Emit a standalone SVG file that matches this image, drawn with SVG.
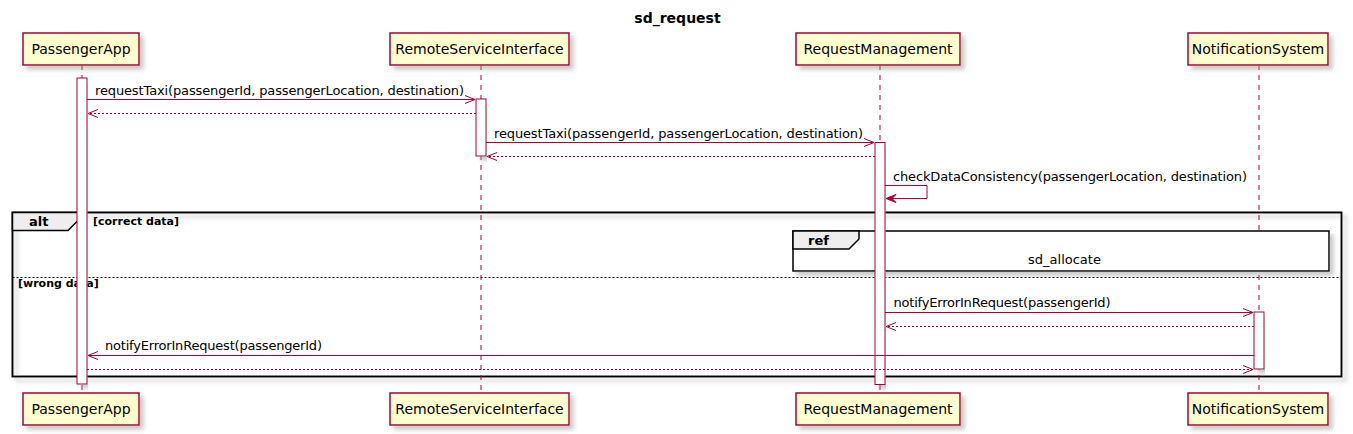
<svg xmlns="http://www.w3.org/2000/svg" width="1353" height="434" viewBox="0 0 1353 434">
<style>
text{font-family:"DejaVu Sans","Liberation Sans",sans-serif;fill:#000}
.title{font-size:14px;font-weight:bold}
.pbox{fill:#FEFECE;stroke:#A80036;stroke-width:1.5}
.pname{font-size:14px}
.life{stroke:#A80036;stroke-width:1;stroke-dasharray:5,5}
.act{fill:#FFFFFF;stroke:#A80036;stroke-width:1}
.msg{stroke:#A80036;stroke-width:1;fill:none}
.ret{stroke:#A80036;stroke-width:1;fill:none;stroke-dasharray:2,2}
.lbl{font-size:13px}
.frame{fill:none;stroke:#000;stroke-width:2}
.tab{fill:#EEEEEE;stroke:#000;stroke-width:1.5}
.ftitle{font-size:13px;font-weight:bold}
.guard{font-size:11px;font-weight:bold}
.sep{stroke:#000;stroke-width:1;stroke-dasharray:2,2}
</style>
<defs>
<filter id="sh" x="-5%" y="-5%" width="115%" height="130%">
<feGaussianBlur in="SourceAlpha" stdDeviation="2" result="b"/>
<feOffset in="b" dx="4" dy="4" result="o"/>
<feColorMatrix in="o" type="matrix" values="0 0 0 0 0.3  0 0 0 0 0.3  0 0 0 0 0.3  0 0 0 0.5 0" result="c"/>
<feMerge><feMergeNode in="c"/><feMergeNode in="SourceGraphic"/></feMerge>
</filter>
</defs>
<rect width="1353" height="434" fill="#FFFFFF"/>
<text class="title" x="677.5" y="22.5" text-anchor="middle">sd_request</text>

<g id="alt-frame">
<rect class="frame" x="12.5" y="212.5" width="1329" height="164" filter="url(#sh)"/>
<polygon class="tab" points="12.5,212.5 78,212.5 78,220.5 68,230.5 12.5,230.5"/>
<text class="ftitle" x="29" y="226">alt</text>
<text class="guard" x="93" y="225">[correct data]</text>
<line class="sep" x1="12.5" y1="277.5" x2="1341.5" y2="277.5"/>
<text class="guard" x="18" y="287">[wrong data]</text>
</g>

<g id="lifelines">
<line class="life" x1="82" y1="65" x2="82" y2="393"/>
<line class="life" x1="481" y1="65" x2="481" y2="393"/>
<line class="life" x1="880" y1="65" x2="880" y2="393"/>
<line class="life" x1="1259" y1="65" x2="1259" y2="393"/>
</g>

<g id="ref-sd_allocate">
<rect x="793" y="231" width="536" height="40" fill="#FFFFFF" stroke="#000" stroke-width="1.5" filter="url(#sh)"/>
<polygon class="tab" points="793,231 859,231 859,239 849,249 793,249"/>
<text class="ftitle" x="808" y="244.5">ref</text>
<text class="lbl" x="1064.5" y="263.5" text-anchor="middle">sd_allocate</text>
</g>

<g id="PassengerApp">
<rect class="pbox" x="23" y="33" width="116" height="32" filter="url(#sh)"/>
<text class="pname" x="81" y="54" text-anchor="middle">PassengerApp</text>
<rect class="pbox" x="23" y="393" width="116" height="32" filter="url(#sh)"/>
<text class="pname" x="81" y="414" text-anchor="middle">PassengerApp</text>
<rect class="act" x="77" y="78" width="10" height="306" filter="url(#sh)"/>
</g>

<g id="RemoteServiceInterface">
<rect class="pbox" x="390" y="33" width="179" height="32" filter="url(#sh)"/>
<text class="pname" x="479.5" y="54" text-anchor="middle">RemoteServiceInterface</text>
<rect class="pbox" x="390" y="393" width="179" height="32" filter="url(#sh)"/>
<text class="pname" x="479.5" y="414" text-anchor="middle">RemoteServiceInterface</text>
<rect class="act" x="476" y="99" width="10" height="57" filter="url(#sh)"/>
</g>

<g id="RequestManagement">
<rect class="pbox" x="796" y="33" width="164" height="32" filter="url(#sh)"/>
<text class="pname" x="878" y="54" text-anchor="middle">RequestManagement</text>
<rect class="pbox" x="796" y="393" width="164" height="32" filter="url(#sh)"/>
<text class="pname" x="878" y="414" text-anchor="middle">RequestManagement</text>
<rect class="act" x="875" y="142.5" width="10" height="242" filter="url(#sh)"/>
</g>

<g id="NotificationSystem">
<rect class="pbox" x="1188" y="33" width="140" height="32" filter="url(#sh)"/>
<text class="pname" x="1258" y="54" text-anchor="middle">NotificationSystem</text>
<rect class="pbox" x="1188" y="393" width="140" height="32" filter="url(#sh)"/>
<text class="pname" x="1258" y="414" text-anchor="middle">NotificationSystem</text>
<rect class="act" x="1254" y="312" width="10" height="57" filter="url(#sh)"/>
</g>

<g id="connectors">
<line class="msg" x1="87" y1="99.5" x2="475" y2="99.5"/>
<polyline class="msg" points="465,95.5 475,99.5 465,103.5"/>
<text class="lbl" x="95" y="95" textLength="369">requestTaxi(passengerId, passengerLocation, destination)</text>

<line class="ret" x1="476" y1="113.5" x2="88" y2="113.5"/>
<polyline class="msg" points="98,109.5 88,113.5 98,117.5"/>

<line class="msg" x1="486" y1="142.5" x2="874" y2="142.5"/>
<polyline class="msg" points="864,138.5 874,142.5 864,146.5"/>
<text class="lbl" x="494" y="138" textLength="369">requestTaxi(passengerId, passengerLocation, destination)</text>

<line class="ret" x1="875" y1="156.5" x2="487" y2="156.5"/>
<polyline class="msg" points="497,152.5 487,156.5 497,160.5"/>

<polyline class="msg" points="885,185.5 927,185.5 927,198.5 886,198.5"/>
<polygon points="896,194.5 886,198.5 896,202.5 892,198.5" fill="#A80036" stroke="#A80036" stroke-width="1"/>
<text class="lbl" x="893" y="180.5" textLength="354">checkDataConsistency(passengerLocation, destination)</text>

<line class="msg" x1="885" y1="312.5" x2="1253" y2="312.5"/>
<polyline class="msg" points="1243,308.5 1253,312.5 1243,316.5"/>
<text class="lbl" x="893.5" y="307" textLength="217">notifyErrorInRequest(passengerId)</text>

<line class="ret" x1="1254" y1="326.5" x2="886" y2="326.5"/>
<polyline class="msg" points="896,322.5 886,326.5 896,330.5"/>

<line class="msg" x1="1254" y1="355.5" x2="88" y2="355.5"/>
<polyline class="msg" points="98,351.5 88,355.5 98,359.5"/>
<text class="lbl" x="105" y="350" textLength="217">notifyErrorInRequest(passengerId)</text>

<line class="ret" x1="87" y1="369.5" x2="1253" y2="369.5"/>
<polyline class="msg" points="1243,365.5 1253,369.5 1243,373.5"/>
</g>
</svg>
